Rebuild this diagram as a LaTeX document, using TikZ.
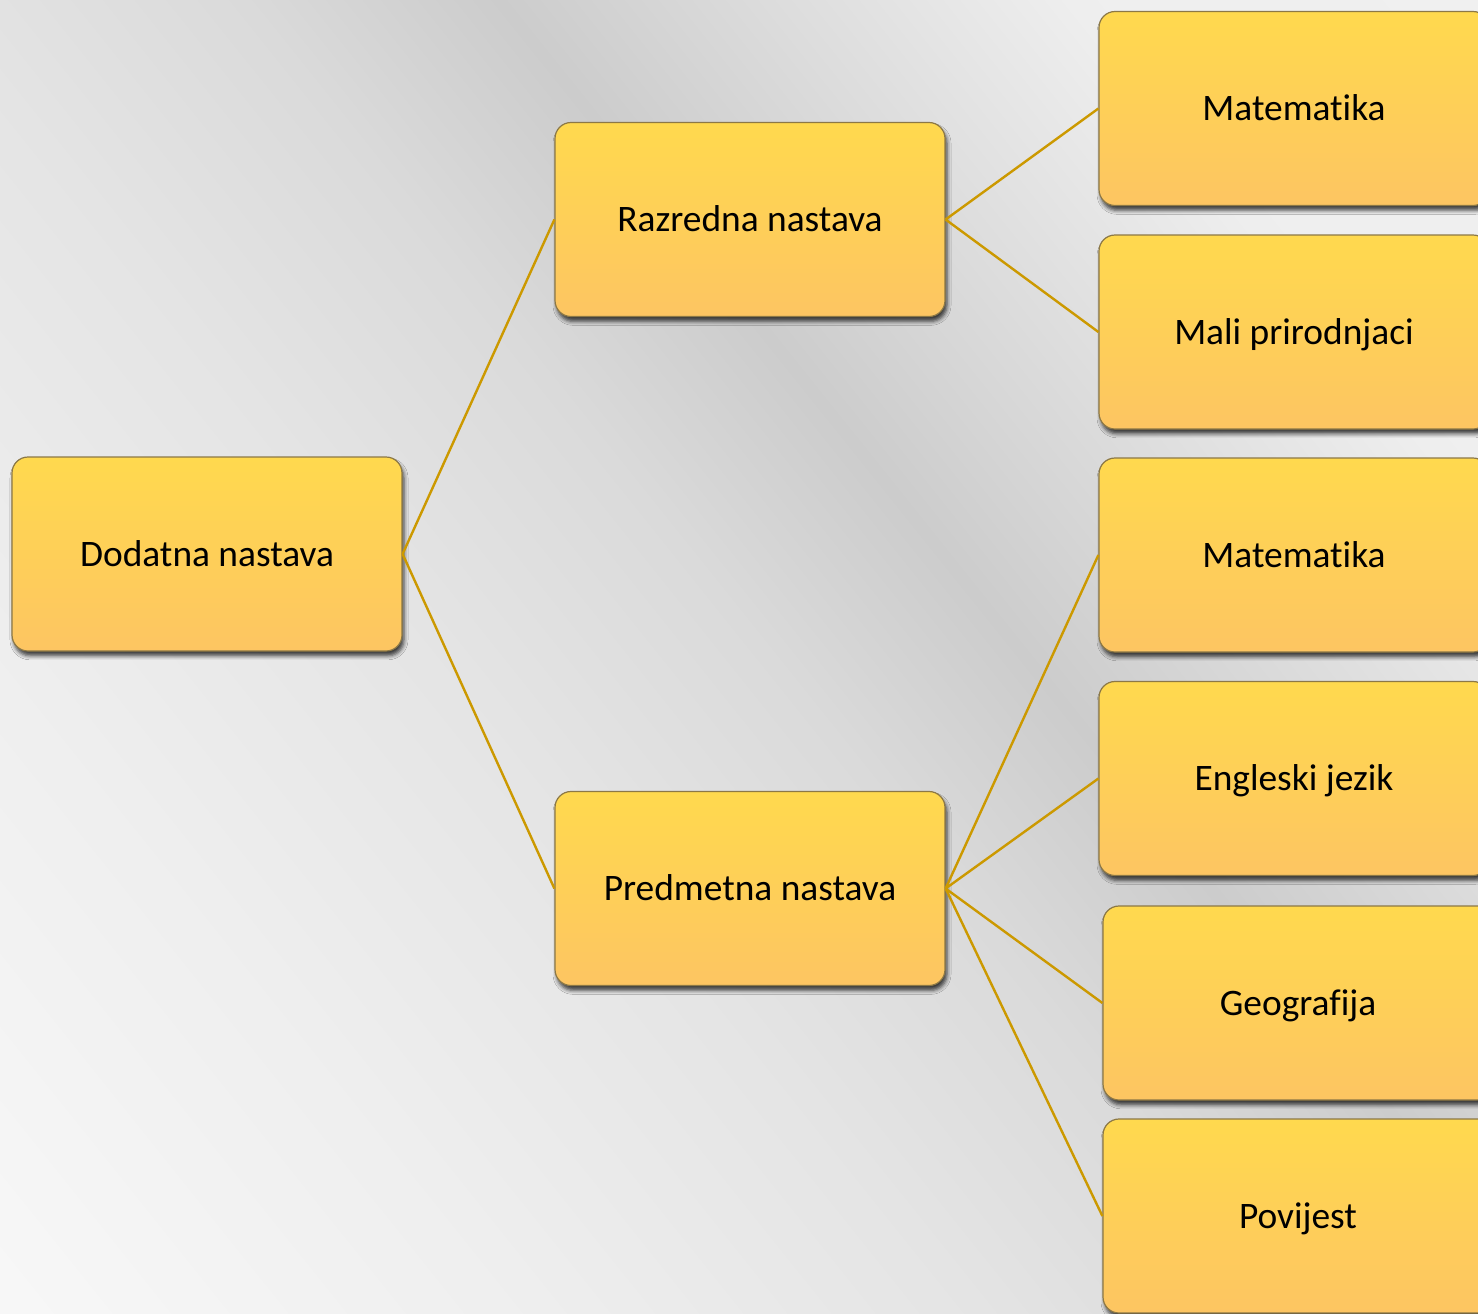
\documentclass[tikz,border=0pt]{standalone}
\usepackage{fontspec}
\setmainfont[Ligatures=NoCommon]{Carlito}
\usetikzlibrary{shadows.blur}
\definecolor{boxtop}{RGB}{255,217,78}
\definecolor{boxbot}{RGB}{253,197,98}
\definecolor{boxline}{RGB}{140,120,70}
\definecolor{connc}{RGB}{204,153,0}
\definecolor{ga}{gray}{0.95}
\definecolor{gb}{gray}{0.935}
\definecolor{gc}{gray}{0.86}
\definecolor{gd}{gray}{0.80}
\definecolor{ge}{gray}{0.855}
\definecolor{gf}{gray}{0.895}
\definecolor{gg}{gray}{0.935}
\definecolor{gh}{gray}{0.995}
\begin{document}
\begin{tikzpicture}[x=0.5pt,y=-0.5pt,
  box/.style={rectangle, rounded corners=8pt, draw=boxline, line width=0.6pt,
    top color=boxtop, bottom color=boxbot, minimum width=195pt, minimum height=97pt,
    inner sep=0pt, text height=16pt, text depth=4pt, font=\fontsize{18.7}{22}\selectfont,
    blur shadow={shadow xshift=1pt, shadow yshift=-2.4pt, shadow blur radius=2pt, shadow opacity=75}},
  link/.style={draw=connc, line width=1.2pt},
  band/.style={draw=none}]
\useasboundingbox (0,0) rectangle (1478,1313);
\begin{scope}
\clip (0,0) rectangle (1478,1313);
\begin{scope}[transform canvas={rotate around={218.7:(540,50)}}]
\shade[band, left color=ga, right color=gb] (-760,-3000) rectangle (91,3000);
\shade[band, left color=gb, right color=gc] (90,-3000) rectangle (341,3000);
\shade[band, left color=gc, right color=gd] (340,-3000) rectangle (541,3000);
\shade[band, left color=gd, right color=ge] (540,-3000) rectangle (741,3000);
\shade[band, left color=ge, right color=gf] (740,-3000) rectangle (991,3000);
\shade[band, left color=gf, right color=gg] (990,-3000) rectangle (1341,3000);
\shade[band, left color=gg, right color=gh] (1340,-3000) rectangle (2040,3000);
\end{scope}
\end{scope}
\node[box] (D) at (207,554) {Dodatna nastava};
\node[box] (R) at (750,219.5) {Razredna nastava};
\node[box] (P) at (750,888.5) {Predmetna nastava};
\node[box] (M1) at (1294,108.5) {Matematika};
\node[box] (MP) at (1294,332) {Mali prirodnjaci};
\node[box] (M2) at (1294,555) {Matematika};
\node[box] (E) at (1294,778.5) {Engleski jezik};
\node[box] (G) at (1298,1003) {Geografija};
\node[box] (Pv) at (1298,1216) {Povijest};
\draw[link] (D.east) -- (R.west);
\draw[link] (D.east) -- (P.west);
\draw[link] (R.east) -- (M1.west);
\draw[link] (R.east) -- (MP.west);
\draw[link] (P.east) -- (M2.west);
\draw[link] (P.east) -- (E.west);
\draw[link] (P.east) -- (G.west);
\draw[link] (P.east) -- (Pv.west);
\end{tikzpicture}
\end{document}
